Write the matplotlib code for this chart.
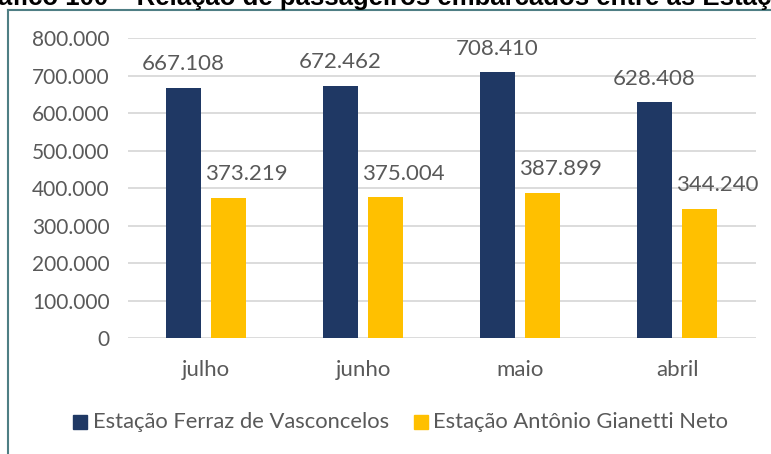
import numpy as np
import matplotlib
matplotlib.use('Agg')
import matplotlib.pyplot as plt
from matplotlib.patches import Rectangle

plt.rcParams['font.family'] = ['Lato', 'DejaVu Sans']

# passageiros embarcados por mes
meses = ['julho', 'junho', 'maio', 'abril']
ferraz = [667108, 672462, 708410, 628408]
gianetti = [373219, 375004, 387899, 344240]
serie_nomes = ['Estação Ferraz de Vasconcelos', 'Estação Antônio Gianetti Neto']
titulo = 'Gráfico 100 – Relação de passageiros embarcados entre as Estações'

azul = '#1F3864'
amarelo = '#FFC000'
cinza = '#595959'

def fmt(v):
    return '{:,.0f}'.format(v).replace(',', '.')

fig = plt.figure(figsize=(7.71, 4.54), dpi=100)
ax = fig.add_axes([0.1654, 0.2555, 0.8145, 0.6608])

x = np.arange(len(meses))
w = 0.223
gap = 0.064
b1 = ax.bar(x - (w + gap) / 2, ferraz, w, color=azul, zorder=3)
b2 = ax.bar(x + (w + gap) / 2, gianetti, w, color=amarelo, zorder=3)

for r, v in zip(b1, ferraz):
    ax.annotate(fmt(v), (r.get_x() + r.get_width() / 2, v), xytext=(0, 17),
                textcoords='offset points', ha='center', va='center',
                fontsize=16, color=cinza)
for r, v in zip(b2, gianetti):
    ax.annotate(fmt(v), (r.get_x() + r.get_width() / 2, v), xytext=(13, 17),
                textcoords='offset points', ha='center', va='center',
                fontsize=16, color=cinza)

ax.set_xlim(-0.5, len(meses) - 0.5)
ax.set_ylim(0, 800000)
ax.set_yticks(np.arange(0, 800001, 100000))
ax.set_yticklabels([fmt(v) for v in np.arange(0, 800001, 100000)])
ax.set_xticks(x)
ax.set_xticklabels(meses)
ax.tick_params(axis='both', length=0, colors=cinza)
ax.tick_params(axis='y', pad=13, labelsize=15)
ax.tick_params(axis='x', pad=16, labelsize=16)
ax.yaxis.grid(True, color='#D9D9D9', linewidth=1.3, zorder=0)
for s in ax.spines.values():
    s.set_visible(False)

# legenda manual embaixo
fig.patches.append(Rectangle((73 / 771, 1 - 429 / 454), 14 / 771, 14 / 454,
                             transform=fig.transFigure, color=azul))
fig.text(93 / 771, 1 - 422 / 454, serie_nomes[0], fontsize=15.8, color=cinza,
         va='center', ha='left')
fig.patches.append(Rectangle((414 / 771, 1 - 429 / 454), 14 / 771, 14 / 454,
                             transform=fig.transFigure, color=amarelo))
fig.text(433 / 771, 1 - 422 / 454, serie_nomes[1], fontsize=15.8, color=cinza,
         va='center', ha='left')

# moldura do grafico
fig.add_artist(plt.Line2D([8 / 771, 8 / 771], [0, 1 - 10 / 454],
                          transform=fig.transFigure, color='#4E7E84', lw=1.5))
fig.add_artist(plt.Line2D([8 / 771, 1], [1 - 10 / 454, 1 - 10 / 454],
                          transform=fig.transFigure, color='#4E7E84', lw=1.5))

# titulo cortado no topo
fig.text(-32 / 771, 1 - 5.5 / 454, titulo, fontsize=18.5, fontweight='bold',
         family='Liberation Sans', color='black', ha='left', va='baseline')

fig.savefig('out.png', dpi=100)
